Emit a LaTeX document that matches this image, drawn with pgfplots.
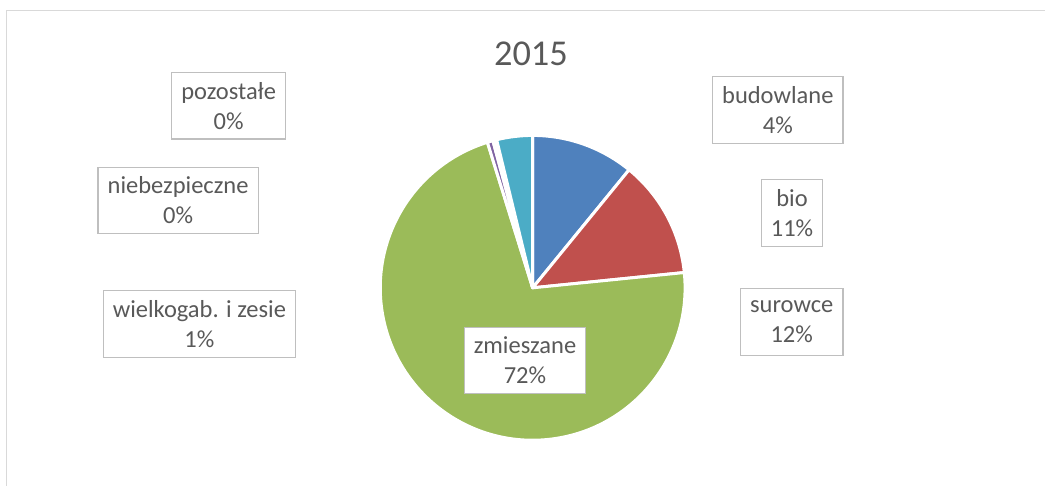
\documentclass[border=0pt]{standalone}
\usepackage{pgfplots}
\pgfplotsset{compat=1.18}
\usepackage{fontspec}
\setmainfont{Carlito}
\definecolor{cBlue}{HTML}{4F81BD}
\definecolor{cRed}{HTML}{C0504D}
\definecolor{cGreen}{HTML}{9BBB59}
\definecolor{cPurple}{HTML}{8064A2}
\definecolor{cAqua}{HTML}{4BACC6}
\definecolor{cOrange}{HTML}{F79646}
\definecolor{cDBlue}{HTML}{2C4D75}
\definecolor{txt}{HTML}{595959}
\definecolor{frame}{HTML}{D9D9D9}
\definecolor{boxc}{HTML}{BFBFBF}
\def\R{76.25pt}
\def\cum{0}
\newcommand{\slice}[2]{%
  \pgfmathsetmacro\sa{90-\cum*3.6}%
  \pgfmathsetmacro\sb{90-(\cum+#1)*3.6}%
  \edef\tmp{\noexpand\fill[#2, draw=white, line width=1.5pt, line join=round] (axis cs:533,198) -- ++(\sa:\R) arc[start angle=\sa, end angle=\sb, radius=\R] -- cycle;}\tmp
  \pgfmathsetmacro\newcum{\cum+#1}\global\let\cum\newcum}
\tikzset{lbl/.style={draw=boxc, line width=0.6pt, fill=white, align=center, text=txt,
  font=\fontsize{12.25pt}{15pt}\selectfont, inner xsep=4.8pt, minimum height=33.3pt}}
\begin{document}
\begin{tikzpicture}
\begin{axis}[x=0.5pt, y=0.5pt, xmin=0, xmax=1046, ymin=0, ymax=486,
  hide axis, clip=false]
\path (axis cs:0,0) rectangle (axis cs:1046,486);
\draw[frame, line width=0.65pt] (axis cs:6.7,0) -- (axis cs:6.7,475.3) -- (axis cs:1046,475.3);
% values in percent, clockwise from 12 o'clock
\slice{10.9}{cBlue}   % bio
\slice{12.5}{cRed}    % surowce
\slice{71.8}{cGreen}  % zmieszane
\slice{0.6}{cPurple}  % wielkogab. i zesie
\slice{0.2}{cOrange}  % niebezpieczne
\slice{0.2}{cDBlue}   % pozostale
\slice{3.8}{cAqua}    % budowlane
\node[text=txt, font=\fontsize{18.2pt}{22pt}\selectfont] at (axis cs:531.3,431.8) {2015};
\node[lbl] at (axis cs:228.8,380.3) {pozostałe\\0\%};
\node[lbl] at (axis cs:178.2,285.3) {niebezpieczne\\0\%};
\node[lbl] at (axis cs:199.5,161.7) {wielkogab. i zesie\\1\%};
\node[lbl] at (axis cs:778.3,376) {budowlane\\4\%};
\node[lbl] at (axis cs:792.5,272.7) {bio\\11\%};
\node[lbl] at (axis cs:792.2,163.8) {surowce\\12\%};
\node[lbl] at (axis cs:525.3,125.3) {zmieszane\\72\%};
\end{axis}
\end{tikzpicture}
\end{document}
